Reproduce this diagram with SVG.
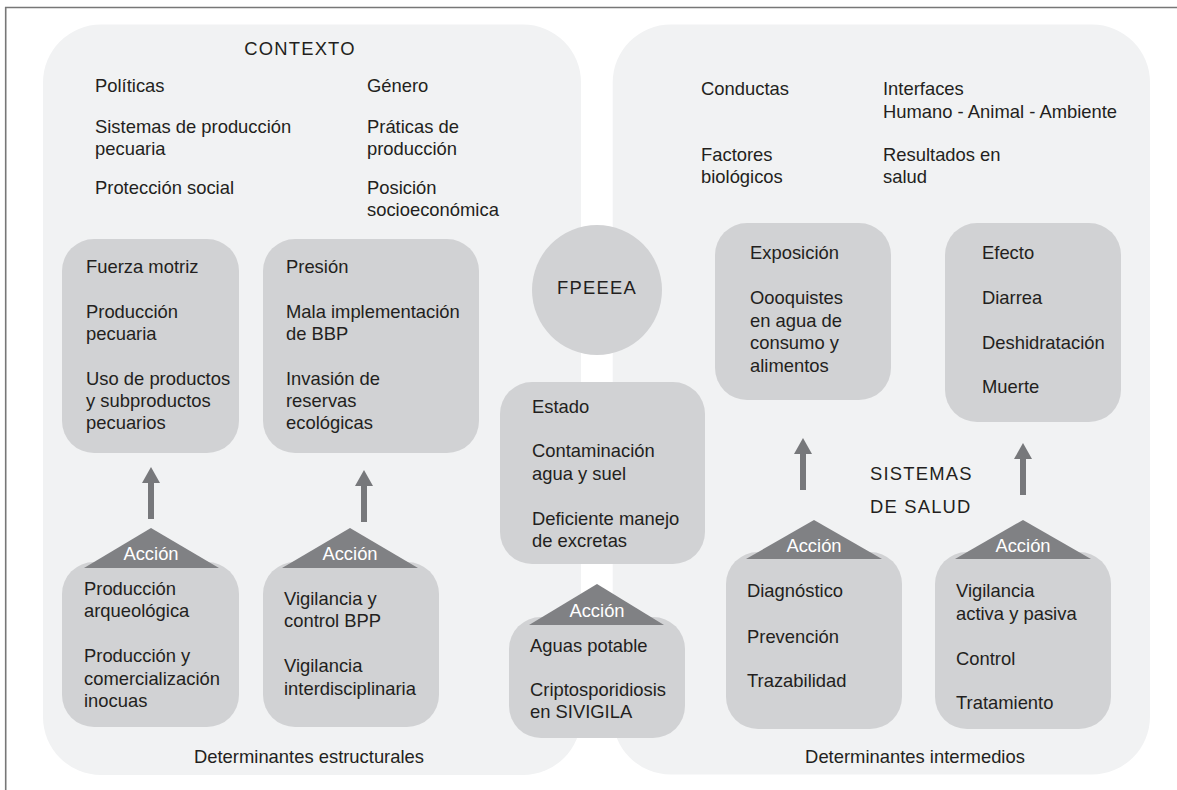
<svg xmlns="http://www.w3.org/2000/svg" width="1177" height="790" viewBox="0 0 1177 790">
<defs>
<style>
.panel{fill:#f1f2f3}
.box{fill:#d1d2d4}
.tri{fill:#808184}
.t{font-family:"Liberation Sans",Arial,sans-serif;font-size:18.4px;fill:#231f20}
.w{font-family:"Liberation Sans",Arial,sans-serif;font-size:18.4px;fill:#ffffff;text-anchor:middle}
.sp{letter-spacing:1.2px}
.frame{stroke:#777777;stroke-width:1.6;fill:none}
.arr{stroke:#77787b;stroke-width:6;fill:none}
</style>
<marker id="ah" markerUnits="userSpaceOnUse" markerWidth="16" markerHeight="18" viewBox="0 0 16 18" refX="0" refY="9" orient="auto">
<path d="M0,0 L16,9 L0,18 z" fill="#77787b"/>
</marker>
</defs>
<rect width="1177" height="790" fill="#ffffff"/>
<path class="frame" d="M5.7,790 V7.5 H1177"/>

<g id="panel-estructurales">
<rect class="panel" x="43" y="24.5" width="538" height="750.5" rx="58"/>
<text class="t sp" x="300" y="55" text-anchor="middle">CONTEXTO</text>
<text class="t" x="95" y="92">Políticas</text>
<text class="t" x="95" y="133">Sistemas de producción</text>
<text class="t" x="95" y="155">pecuaria</text>
<text class="t" x="95" y="194">Protección social</text>
<text class="t" x="367" y="92">Género</text>
<text class="t" x="367" y="133">Práticas de</text>
<text class="t" x="367" y="155">producción</text>
<text class="t" x="367" y="194">Posición</text>
<text class="t" x="367" y="216">socioeconómica</text>
<text class="t" x="309" y="763" text-anchor="middle">Determinantes estructurales</text>
</g>

<g id="panel-intermedios">
<rect class="panel" x="612.7" y="24.5" width="537.3" height="750" rx="58"/>
<text class="t" x="701" y="95">Conductas</text>
<text class="t" x="883" y="95">Interfaces</text>
<text class="t" x="883" y="118">Humano - Animal - Ambiente</text>
<text class="t" x="701" y="161">Factores</text>
<text class="t" x="701" y="183">biológicos</text>
<text class="t" x="883" y="161">Resultados en</text>
<text class="t" x="883" y="183">salud</text>
<text class="t sp" x="870" y="480">SISTEMAS</text>
<text class="t sp" x="870" y="513">DE SALUD</text>
<text class="t" x="915" y="763" text-anchor="middle">Determinantes intermedios</text>
</g>

<g id="fuerza-motriz">
<rect class="box" x="62" y="239" width="177" height="214" rx="32"/>
<text class="t" x="86" y="273">Fuerza motriz</text>
<text class="t" x="86" y="318">Producción</text>
<text class="t" x="86" y="340">pecuaria</text>
<text class="t" x="86" y="385">Uso de productos</text>
<text class="t" x="86" y="407">y subproductos</text>
<text class="t" x="86" y="429">pecuarios</text>
</g>

<g id="presion">
<rect class="box" x="263" y="239" width="216" height="214" rx="32"/>
<text class="t" x="286" y="273">Presión</text>
<text class="t" x="286" y="318">Mala implementación</text>
<text class="t" x="286" y="340">de BBP</text>
<text class="t" x="286" y="385">Invasión de</text>
<text class="t" x="286" y="407">reservas</text>
<text class="t" x="286" y="429">ecológicas</text>
</g>

<g id="accion-produccion">
<rect class="box" x="62" y="562" width="177" height="165" rx="32"/>
<polygon class="tri" points="151,528 84,568 219,568"/>
<text class="w" x="151" y="560">Acción</text>
<text class="t" x="84" y="595">Producción</text>
<text class="t" x="84" y="617">arqueológica</text>
<text class="t" x="84" y="662">Producción y</text>
<text class="t" x="84" y="685">comercialización</text>
<text class="t" x="84" y="707">inocuas</text>
</g>

<g id="accion-vigilancia-bpp">
<rect class="box" x="263" y="562" width="176" height="165" rx="32"/>
<polygon class="tri" points="350,528 282,568 418,568"/>
<text class="w" x="350" y="560">Acción</text>
<text class="t" x="284" y="605">Vigilancia y</text>
<text class="t" x="284" y="627">control BPP</text>
<text class="t" x="284" y="672">Vigilancia</text>
<text class="t" x="284" y="695">interdisciplinaria</text>
</g>

<g id="fpeeea">
<circle class="box" cx="597" cy="290" r="65"/>
<text class="t sp" x="597" y="294" text-anchor="middle">FPEEEA</text>
</g>

<g id="estado">
<rect class="box" x="500" y="382" width="205" height="182" rx="32"/>
<text class="t" x="532" y="413">Estado</text>
<text class="t" x="532" y="457">Contaminación</text>
<text class="t" x="532" y="480">agua y suel</text>
<text class="t" x="532" y="525">Deficiente manejo</text>
<text class="t" x="532" y="547">de excretas</text>
</g>

<g id="accion-agua">
<rect class="box" x="509" y="617" width="176" height="121" rx="32"/>
<polygon class="tri" points="597,584 529,625 664,625"/>
<text class="w" x="597" y="617">Acción</text>
<text class="t" x="530" y="652">Aguas potable</text>
<text class="t" x="530" y="696">Criptosporidiosis</text>
<text class="t" x="530" y="718">en SIVIGILA</text>
</g>

<g id="exposicion">
<rect class="box" x="715" y="223" width="176" height="177" rx="32"/>
<text class="t" x="750" y="259">Exposición</text>
<text class="t" x="750" y="304">Oooquistes</text>
<text class="t" x="750" y="327">en agua de</text>
<text class="t" x="750" y="349">consumo y</text>
<text class="t" x="750" y="372">alimentos</text>
</g>

<g id="efecto">
<rect class="box" x="945" y="223" width="176" height="199" rx="32"/>
<text class="t" x="982" y="259">Efecto</text>
<text class="t" x="982" y="304">Diarrea</text>
<text class="t" x="982" y="349">Deshidratación</text>
<text class="t" x="982" y="393">Muerte</text>
</g>

<g id="accion-diagnostico">
<rect class="box" x="726" y="552" width="176" height="177" rx="32"/>
<polygon class="tri" points="814,520 746,559 882,559"/>
<text class="w" x="814" y="552">Acción</text>
<text class="t" x="747" y="597">Diagnóstico</text>
<text class="t" x="747" y="643">Prevención</text>
<text class="t" x="747" y="687">Trazabilidad</text>
</g>

<g id="accion-vigilancia">
<rect class="box" x="935" y="552" width="176" height="177" rx="32"/>
<polygon class="tri" points="1023,520 955,559 1091,559"/>
<text class="w" x="1023" y="552">Acción</text>
<text class="t" x="956" y="597">Vigilancia</text>
<text class="t" x="956" y="620">activa y pasiva</text>
<text class="t" x="956" y="665">Control</text>
<text class="t" x="956" y="709">Tratamiento</text>
</g>

<g id="connectors">
<line class="arr" x1="151" y1="519" x2="151" y2="483" marker-end="url(#ah)"/>
<line class="arr" x1="364" y1="522" x2="364" y2="486" marker-end="url(#ah)"/>
<line class="arr" x1="803" y1="490" x2="803" y2="454" marker-end="url(#ah)"/>
<line class="arr" x1="1023" y1="495" x2="1023" y2="459" marker-end="url(#ah)"/>
</g>
</svg>
